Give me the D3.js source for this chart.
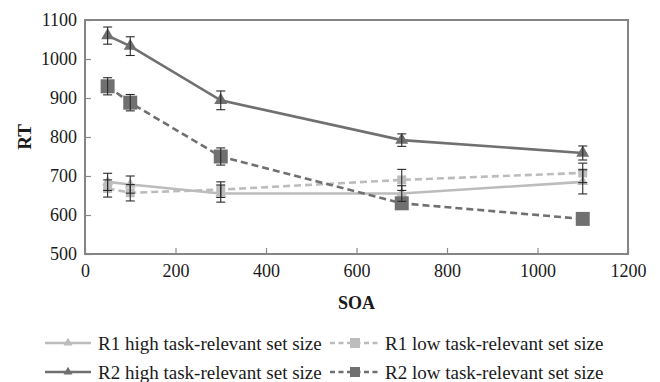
<!DOCTYPE html>
<html>
<head>
<meta charset="utf-8">
<script src="https://cdn.jsdelivr.net/npm/d3@7/dist/d3.min.js"></script>
<style>
  html, body { margin: 0; padding: 0; background: #fff; }
  svg { display: block; }
</style>
</head>
<body>
<svg id="chart" width="660" height="382"></svg>
<script>
// SOA conditions (ms)
const soa = [50, 100, 300, 700, 1100];

// Mean RT per series and their error bar half-lengths
const r1High = [685, 678, 655, 655, 685];
const r1HighErr = [22, 22, 22, 20, 31];
const r1Low = [668, 657, 665, 690, 708];
const r1LowErr = [22, 21, 20, 27, 25];
const r2High = [1060, 1033, 894, 792, 759];
const r2HighErr = [22, 24, 24, 16, 18];
const r2Low = [930, 888, 750, 630, 590];
const r2LowErr = [22, 21, 22, 0, 0];

const seriesNames = [
  "R1 high task-relevant set size",
  "R1 low task-relevant set size",
  "R2 high task-relevant set size",
  "R2 low task-relevant set size"
];

const xTicks = [0, 200, 400, 600, 800, 1000, 1200];
const yTicks = [500, 600, 700, 800, 900, 1000, 1100];

const FONT = "Liberation Serif";
const LIGHT = "#bcbcbc", DARK = "#707070";

const series = [
  { name: seriesNames[0], y: r1High, err: r1HighErr, color: LIGHT, dash: null, marker: "tri", size: 11 },
  { name: seriesNames[1], y: r1Low, err: r1LowErr, color: LIGHT, dash: "7,4", marker: "sq", size: 9 },
  { name: seriesNames[2], y: r2High, err: r2HighErr, color: DARK, dash: null, marker: "tri", size: 13 },
  { name: seriesNames[3], y: r2Low, err: r2LowErr, color: DARK, dash: "7,4", marker: "sq", size: 14 }
];

const svg = d3.select("#chart").style("font-family", FONT);
const m = { left: 85, top: 20, width: 543, height: 234 };

const x = d3.scaleLinear().domain([0, 1200]).range([m.left, m.left + m.width]);
const y = d3.scaleLinear().domain([500, 1100]).range([m.top + m.height, m.top]);

// axes with inward ticks
const fmt = d3.format("d");
const xAxis = d3.axisBottom(x).tickValues(xTicks).tickFormat(fmt).tickSizeInner(-6).tickSizeOuter(0).tickPadding(10);
const yAxis = d3.axisLeft(y).tickValues(yTicks).tickFormat(fmt).tickSizeInner(-6).tickSizeOuter(0).tickPadding(14);

const gx = svg.append("g").attr("transform", `translate(0,${m.top + m.height})`).call(xAxis);
const gy = svg.append("g").attr("transform", `translate(${m.left},0)`).call(yAxis);
[gx, gy].forEach(g => {
  g.attr("font-family", null).attr("font-size", null);
  g.select(".domain").remove();
  g.selectAll(".tick line").attr("stroke", "#8a8a8a").attr("stroke-width", 1.2);
  g.selectAll(".tick text")
    .style("font-family", FONT).style("font-size", "18px")
    .attr("fill", "#1a1a1a");
});
gy.selectAll(".tick text").attr("x", -8);
gx.selectAll(".tick text").attr("y", 10);

// plot frame
svg.append("rect")
  .attr("x", m.left).attr("y", m.top)
  .attr("width", m.width).attr("height", m.height)
  .attr("fill", "none").attr("stroke", "#858585").attr("stroke-width", 2);

// axis titles
svg.append("text")
  .attr("x", x(600)).attr("y", 309)
  .attr("text-anchor", "middle")
  .style("font-family", FONT).style("font-size", "18px").style("font-weight", "bold")
  .attr("fill", "#1a1a1a")
  .text("SOA");
svg.append("text")
  .attr("transform", `translate(31,${y(800)}) rotate(-90)`)
  .attr("text-anchor", "middle")
  .style("font-family", FONT).style("font-size", "19px").style("font-weight", "bold")
  .attr("fill", "#1a1a1a")
  .text("RT");

function markerPath(type, size) {
  if (type === "tri") {
    return d3.symbol(d3.symbolTriangle, size * size * 0.43)();
  }
  const h = size / 2;
  return `M${-h},${-h}H${h}V${h}H${-h}Z`;
}

const line = d3.line().x(d => x(d[0])).y(d => y(d[1]));

// lines
series.forEach(s => {
  const pts = soa.map((v, i) => [v, s.y[i]]);
  svg.append("path")
    .attr("d", line(pts))
    .attr("fill", "none")
    .attr("stroke", s.color)
    .attr("stroke-width", 2.6)
    .attr("stroke-dasharray", s.dash);
});

// markers
series.forEach(s => {
  svg.append("g").selectAll("path")
    .data(soa.map((v, i) => [v, s.y[i]]))
    .join("path")
    .attr("transform", d => `translate(${x(d[0])},${y(d[1])})`)
    .attr("d", markerPath(s.marker, s.size))
    .attr("fill", s.color);
});

// error bars
series.forEach(s => {
  const g = svg.append("g").attr("stroke", "#2a2a2a").attr("stroke-width", 1.1);
  soa.forEach((v, i) => {
    const e = s.err[i];
    if (!e) return;
    const cx = x(v), y0 = y(s.y[i] - e), y1 = y(s.y[i] + e);
    g.append("line").attr("x1", cx).attr("x2", cx).attr("y1", y0).attr("y2", y1);
    g.append("line").attr("x1", cx - 4.5).attr("x2", cx + 4.5).attr("y1", y0).attr("y2", y0);
    g.append("line").attr("x1", cx - 4.5).attr("x2", cx + 4.5).attr("y1", y1).attr("y2", y1);
  });
});

// legend
const legendPos = [
  { x: 45, y: 343 }, { x: 330, y: 343 },
  { x: 45, y: 372 }, { x: 330, y: 372 }
];
series.forEach((s, i) => {
  const p = legendPos[i];
  const g = svg.append("g").attr("transform", `translate(${p.x},${p.y})`);
  g.append("line")
    .attr("x1", 0).attr("x2", s.dash ? 50 : 46).attr("y1", 0).attr("y2", 0)
    .attr("stroke", s.color).attr("stroke-width", 2.6)
    .attr("stroke-dasharray", s.dash ? "5,3.5" : null);
  g.append("path")
    .attr("transform", `translate(${s.dash ? 25 : 23},0)`)
    .attr("d", markerPath(s.marker, s.dash ? 10 : 9))
    .attr("fill", s.color);
  g.append("text")
    .attr("x", s.dash ? 55 : 53).attr("y", 0).attr("dy", "0.35em")
    .style("font-family", FONT).style("font-size", "19px")
    .attr("fill", "#1a1a1a")
    .text(s.name);
});
</script>
</body>
</html>
